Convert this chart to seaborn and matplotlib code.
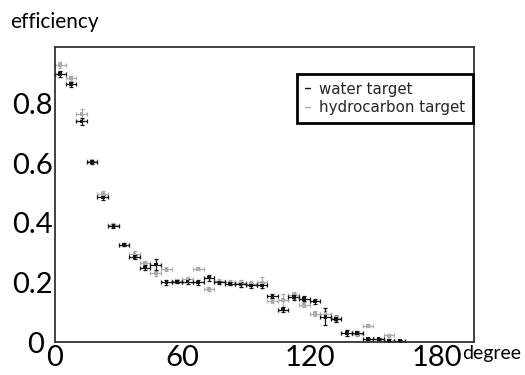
import numpy as np
import pandas as pd
import matplotlib
matplotlib.use("Agg")
import matplotlib.pyplot as plt
from matplotlib.lines import Line2D
from matplotlib.ticker import MultipleLocator
import seaborn as sns

# ---- data ----
angle = [2.5, 7.5, 12.5, 17.5, 22.5, 27.5, 32.5, 37.5, 42.5, 47.5, 52.5,
         57.5, 62.5, 67.5, 72.5, 77.5, 82.5, 87.5, 92.5, 97.5, 102.5, 107.5,
         112.5, 117.5, 122.5, 127.5, 132.5, 137.5, 142.5, 147.5, 152.5,
         157.5, 162.5]
angle_halfwidth = 2.5

water_eff = [0.900, 0.865, 0.740, 0.603, 0.485, 0.390, 0.327, 0.285, 0.250,
             0.260, 0.200, 0.203, 0.203, 0.200, 0.216, 0.200, 0.196, 0.193,
             0.190, 0.190, 0.154, 0.109, 0.150, 0.145, 0.136, 0.085, 0.078,
             0.030, 0.031, 0.010, 0.010, 0.005, 0.003]
water_err = [0.010, 0.008, 0.012, 0.005, 0.008, 0.006, 0.004, 0.006, 0.010,
             0.017, 0.008, 0.006, 0.008, 0.008, 0.010, 0.006, 0.006, 0.010,
             0.008, 0.008, 0.006, 0.008, 0.010, 0.008, 0.008, 0.028, 0.010,
             0.010, 0.006, 0.004, 0.004, 0.004, 0.003]

hydro_eff = [0.930, 0.885, 0.765, 0.607, 0.497, 0.393, 0.327, 0.297, 0.265,
             0.230, 0.245, 0.205, 0.210, 0.246, 0.177, 0.205, 0.200, 0.197,
             0.196, 0.200, 0.138, 0.140, 0.157, 0.125, 0.095, 0.093, 0.080,
             0.029, 0.027, 0.055, 0.010, 0.022, 0.004]
hydro_err = [0.010, 0.008, 0.016, 0.005, 0.010, 0.006, 0.004, 0.008, 0.008,
             0.008, 0.008, 0.008, 0.008, 0.006, 0.005, 0.008, 0.008, 0.012,
             0.008, 0.018, 0.006, 0.022, 0.012, 0.008, 0.008, 0.012, 0.010,
             0.010, 0.006, 0.004, 0.004, 0.006, 0.003]

series_names = ["hydrocarbon target", "water target"]
series_colors = {"water target": "#141414", "hydrocarbon target": "#ababab"}

x_label_vals = [0, 60, 120, 180]
y_label_vals = [0.2, 0.4, 0.6, 0.8]

df = pd.concat([
    pd.DataFrame({"angle": angle, "efficiency": hydro_eff, "err": hydro_err,
                  "target": "hydrocarbon target"}),
    pd.DataFrame({"angle": angle, "efficiency": water_eff, "err": water_err,
                  "target": "water target"}),
], ignore_index=True)

# ---- figure ----
sns.set_theme(style="white")
plt.rcParams["font.family"] = ["Lato", "DejaVu Sans"]

fig = plt.figure(figsize=(5.25, 3.75), dpi=100)
ax = fig.add_axes([55 / 525, 1 - 342 / 375, (474 - 55) / 525, (342 - 47) / 375])

for name in series_names:
    sub = df[df["target"] == name]
    ax.errorbar(sub["angle"], sub["efficiency"], xerr=angle_halfwidth,
                yerr=sub["err"], fmt="none", ecolor=series_colors[name],
                elinewidth=0.9, capsize=1.6, capthick=0.9, zorder=2)

sns.scatterplot(data=df, x="angle", y="efficiency", hue="target",
                palette=series_colors, marker="s", s=7, linewidth=0,
                legend=False, ax=ax, zorder=3)

ax.set_xlim(0, 197.5)
ax.set_ylim(0, 0.99)
ax.set_xlabel("")
ax.set_ylabel("")

# ticks
ax.xaxis.set_minor_locator(MultipleLocator(5))
ax.yaxis.set_minor_locator(MultipleLocator(0.02))

xt = np.arange(0, 197, 20)
ax.set_xticks(xt)
ax.set_xticklabels([str(int(v)) if int(v) in x_label_vals else "" for v in xt])
yt = np.round(np.arange(0, 0.99, 0.1), 2)
ax.set_yticks(yt)
ax.set_yticklabels([f"{v:.1f}" if any(abs(v - w) < 1e-6 for w in y_label_vals) else "" for v in yt])

ax.tick_params(axis="both", which="both", direction="in", colors="#222222",
               top=False, right=False)
ax.tick_params(axis="y", which="major", length=9.5, width=1.1, pad=1.5,
               labelsize=21, labelcolor="black")
ax.tick_params(axis="y", which="minor", length=5, width=0.9)
ax.tick_params(axis="x", which="major", length=6.5, width=1.1, pad=2,
               labelsize=21, labelcolor="black")
ax.tick_params(axis="x", which="minor", length=3, width=0.9)

for s in ax.spines.values():
    s.set_visible(True)
    s.set_color("#333333")
    s.set_linewidth(1.3)

# hand-placed labels
fig.text(36 / 525, 1 - 345 / 375, "0", fontsize=21, ha="center", va="center",
         color="black")
fig.text(10 / 525, 1 - 22 / 375, "efficiency", fontsize=15, ha="left",
         va="center", color="black")
fig.text(462 / 525, 1 - 354 / 375, "degree", fontsize=14, ha="left",
         va="center", color="black")

handles = [Line2D([], [], color=series_colors["water target"], lw=1.0),
           Line2D([], [], color=series_colors["hydrocarbon target"], lw=1.0)]
leg = ax.legend(handles, ["water target", "hydrocarbon target"],
                loc="upper right", bbox_to_anchor=(0.997, 0.908),
                borderaxespad=0, frameon=True, fancybox=False,
                prop={"family": "DejaVu Sans", "size": 10.8},
                handlelength=0.35, handletextpad=0.6, labelspacing=0.25,
                borderpad=0.5)
leg.get_frame().set_edgecolor("black")
leg.get_frame().set_linewidth(2.0)
leg.get_frame().set_facecolor("white")
leg.get_frame().set_alpha(1)

fig.savefig("out.png", dpi=100)
